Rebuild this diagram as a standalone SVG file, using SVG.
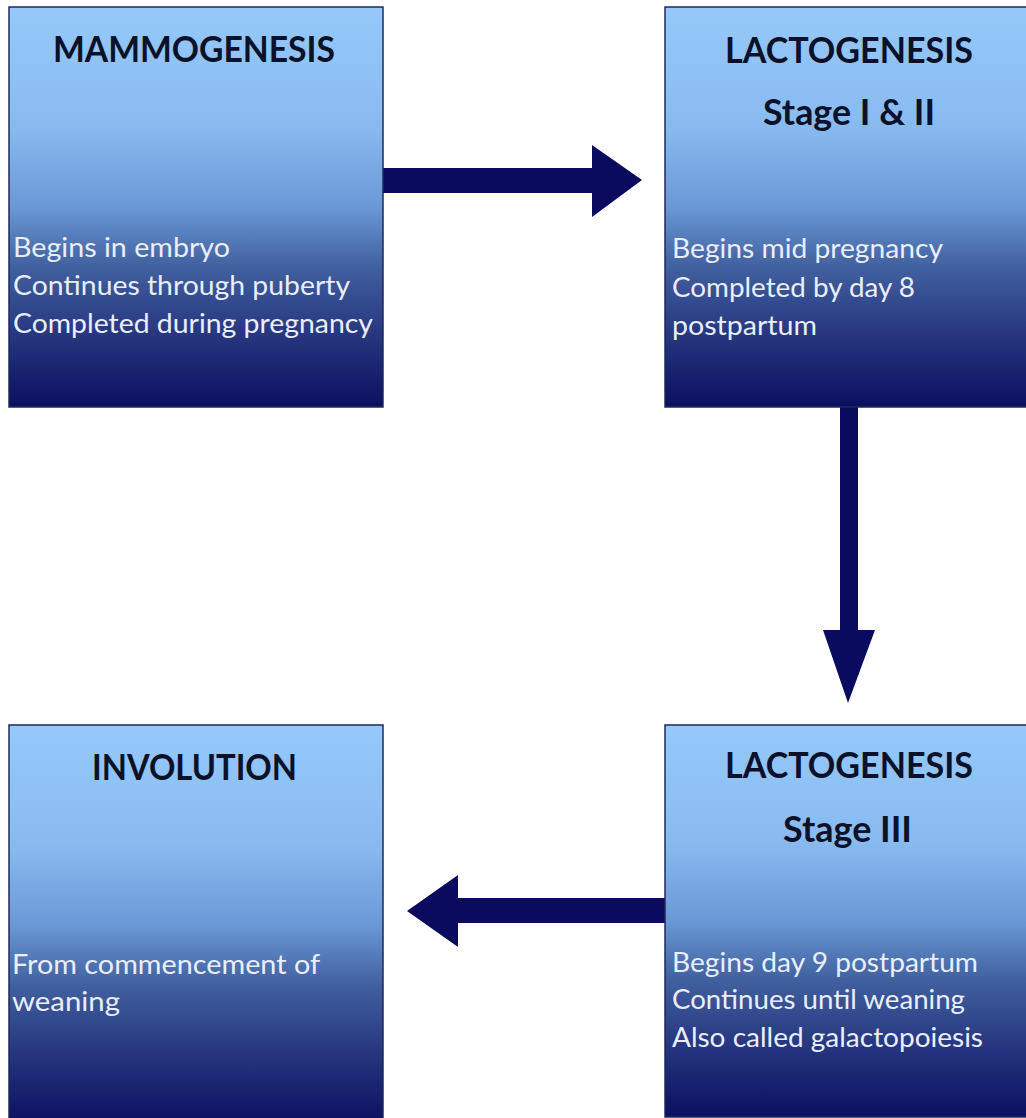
<svg xmlns="http://www.w3.org/2000/svg" width="1026" height="1118" viewBox="0 0 1026 1118">
<style>
.box{fill:url(#g);stroke:#1e2a5c;stroke-width:1.5}
.h{font-family:Lato,"Open Sans","Liberation Sans",sans-serif;font-weight:bold;font-size:37px;fill:#0b1128}
.b{font-family:Lato,"Open Sans","Liberation Sans",sans-serif;font-size:27px;fill:#e9eef9}
.arr{fill:#0a0b5e}
</style>
<defs>
<linearGradient id="g" x1="0" y1="0" x2="0" y2="1">
<stop offset="0" stop-color="#96c9fa"/>
<stop offset="0.3" stop-color="#88baf0"/>
<stop offset="0.5" stop-color="#6a98d6"/>
<stop offset="0.65" stop-color="#41609f"/>
<stop offset="0.82" stop-color="#26367f"/>
<stop offset="1" stop-color="#0c105e"/>
</linearGradient>
</defs>
<rect width="1026" height="1118" fill="#ffffff"/>
<g id="connectors">
<polygon class="arr" points="383,168 592,168 592,145 642,180 592,217 592,193 383,193"/>
<polygon class="arr" points="840,407 858,407 858,630 875,630 848,703 823,630 840,630"/>
<polygon class="arr" points="665,898 458,898 458,875 407,911 458,947 458,923 665,923"/>
</g>
<g id="mammogenesis">
<rect class="box" x="9" y="7" width="374" height="400"/>
<text class="h" x="53" y="62" textLength="282" lengthAdjust="spacingAndGlyphs">MAMMOGENESIS</text>
<text class="b" x="13" y="257" textLength="217" lengthAdjust="spacingAndGlyphs">Begins in embryo</text>
<text class="b" x="13" y="295" textLength="337" lengthAdjust="spacingAndGlyphs">Continues through puberty</text>
<text class="b" x="13" y="333" textLength="360" lengthAdjust="spacingAndGlyphs">Completed during pregnancy</text>
</g>
<g id="lactogenesis12">
<rect class="box" x="665" y="7" width="370" height="400"/>
<text class="h" x="725" y="63" textLength="248" lengthAdjust="spacingAndGlyphs">LACTOGENESIS</text>
<text class="h" x="763" y="125" textLength="172" lengthAdjust="spacingAndGlyphs">Stage I &amp; II</text>
<text class="b" x="672" y="258" textLength="271" lengthAdjust="spacingAndGlyphs">Begins mid pregnancy</text>
<text class="b" x="672" y="297" textLength="243" lengthAdjust="spacingAndGlyphs">Completed by day 8</text>
<text class="b" x="672" y="335" textLength="145" lengthAdjust="spacingAndGlyphs">postpartum</text>
</g>
<g id="involution">
<rect class="box" x="9" y="725" width="374" height="400"/>
<text class="h" x="92" y="780" textLength="205" lengthAdjust="spacingAndGlyphs">INVOLUTION</text>
<text class="b" x="12" y="974" textLength="308" lengthAdjust="spacingAndGlyphs">From commencement of</text>
<text class="b" x="12" y="1011" textLength="108" lengthAdjust="spacingAndGlyphs">weaning</text>
</g>
<g id="lactogenesis3">
<rect class="box" x="665" y="725" width="370" height="392"/>
<text class="h" x="725" y="778" textLength="248" lengthAdjust="spacingAndGlyphs">LACTOGENESIS</text>
<text class="h" x="783" y="842" textLength="129" lengthAdjust="spacingAndGlyphs">Stage III</text>
<text class="b" x="672" y="972" textLength="306" lengthAdjust="spacingAndGlyphs">Begins day 9 postpartum</text>
<text class="b" x="672" y="1009" textLength="293" lengthAdjust="spacingAndGlyphs">Continues until weaning</text>
<text class="b" x="672" y="1047" textLength="311" lengthAdjust="spacingAndGlyphs">Also called galactopoiesis</text>
</g>
</svg>
